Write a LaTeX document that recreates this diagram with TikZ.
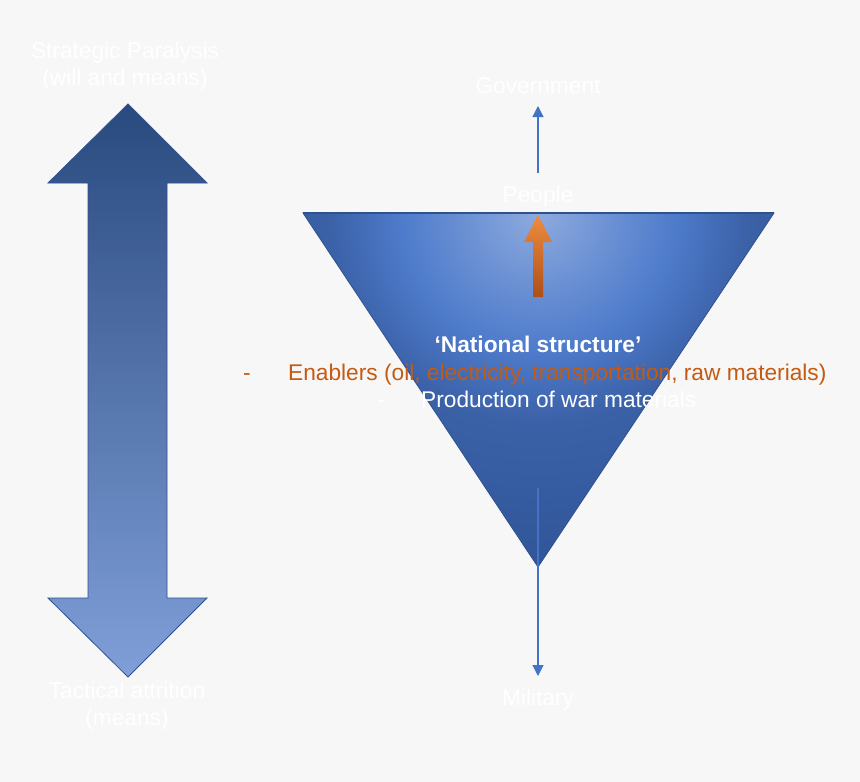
\documentclass[tikz,border=0pt]{standalone}
\usepackage{fontspec}
\setmainfont{Liberation Sans}
\usepackage{xcolor}
\usetikzlibrary{arrows.meta,positioning}
\definecolor{paper}{HTML}{F7F7F7}
\definecolor{edge}{HTML}{2F528F}
\definecolor{wire}{HTML}{4472C4}
\definecolor{deep}{HTML}{294A7F}
\definecolor{midblue}{HTML}{3E67B2}
\definecolor{pale}{HTML}{809FD9}
\definecolor{rust}{HTML}{C55A11}
\definecolor{amber}{HTML}{EE8C3F}
\definecolor{burnt}{HTML}{AE4F1A}
\definecolor{glow}{HTML}{8DAADE}
\definecolor{natmid}{HTML}{4E7BCB}
\definecolor{natside}{HTML}{3A60A6}
\definecolor{natdark}{HTML}{2F5497}
\pgfdeclareradialshading{natglow}{\pgfpoint{0bp}{0bp}}{color(0bp)=(glow); color(9bp)=(natmid); color(14bp)=(natside); color(25bp)=(natdark); color(50bp)=(natdark)}

\begin{document}
\begin{tikzpicture}[x=1pt,y=-1pt,
lbl/.style={text=white,font=\fontsize{22.7}{27}\selectfont,align=center,inner sep=0pt},
wirearr/.style={draw=wire,line width=1.2pt,-{Triangle[length=11pt,width=11pt]}}
]
\fill[paper] (0,0) rectangle (860,782);
\useasboundingbox (0,0) rectangle (860,782);

% strategic / tactical double arrow
\draw[edge,line width=0.8pt,top color=deep,middle color=midblue,bottom color=pale]
 (128,104) -- (207,183) -- (167,183) -- (167,598) -- (207,598) -- (128,677)
 -- (48,598) -- (88,598) -- (88,183) -- (48,183) -- cycle;
\node[lbl,anchor=base] (strat) at (125,85) {Strategic Paralysis\\(will and means)};
\node[lbl,anchor=base] (tact) at (127,725) {Tactical attrition\\(means)};

% national structure triangle
\begin{scope}
\clip (303,213) -- (774,213) -- (538,567) -- cycle;
\shade[shading=natglow] (538,213) circle (380pt);
\end{scope}
\draw[edge,line width=0.8pt] (303,213) -- (774,213) -- (538,567) -- cycle;
\draw[edge,line width=1.6pt] (303,213) -- (774,213);
\shade[top color=amber,bottom color=burnt] (538,215) -- (552,242) -- (543,242)
 -- (543,297) -- (533,297) -- (533,242) -- (524,242) -- cycle;

\node[lbl,anchor=base] (gov) at (538,93) {Government};
\node[lbl,anchor=base] (ppl) at (538,202) {People};
\node[lbl,anchor=base] (mil) at (538,705) {Military};
\coordinate (govtip) at (538,106);
\coordinate (pplfoot) at (538,173);
\coordinate (miltop) at (538,488);
\coordinate (miltip) at (538,676);
\draw[wirearr] (pplfoot) -- (govtip);
\draw[wirearr] (miltop) -- (miltip);

\node[lbl,anchor=base,font=\fontsize{22.7}{27}\selectfont\bfseries] (nat) at (538,352) {‘National structure’};
\node[lbl,anchor=base west,text=rust] (enab) at (243,380) {\makebox[45pt][l]{-}Enablers (oil, electricity, transportation, raw materials)};
\node[lbl,anchor=base west] (prod) at (377,407) {\makebox[44pt][l]{-}Production of war materials};
\end{tikzpicture}
\end{document}
